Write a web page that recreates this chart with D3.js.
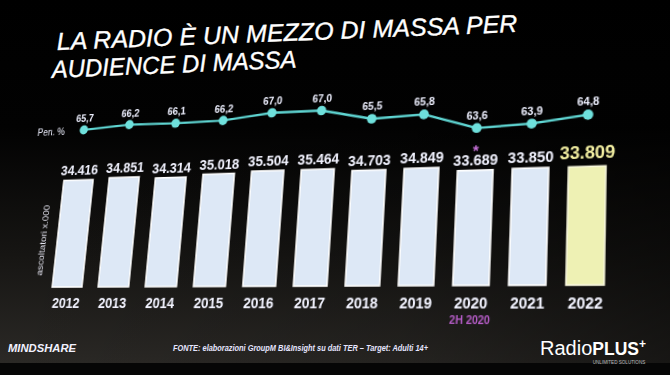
<!DOCTYPE html>
<html>
<head>
<meta charset="utf-8">
<script src="https://cdn.jsdelivr.net/npm/d3@7"></script>
<style>
  html, body { margin:0; padding:0; background:#000; }
  body { width:670px; height:375px; overflow:hidden; position:relative; font-family:"Liberation Sans", Arial, sans-serif; }
  svg { position:absolute; left:0; top:0; display:block; overflow:visible; }
  #chart { transform-origin:0 0; }
</style>
</head>
<body>
<svg id="bg" width="670" height="375"></svg>
<svg id="chart" width="670" height="375"></svg>
<script>
// ---------------- data ----------------
const years = ["2012","2013","2014","2015","2016","2017","2018","2019","2020","2021","2022"];
const listeners = [34416, 34851, 34314, 35018, 35504, 35464, 34703, 34849, 33689, 33850, 33809];
const penetration = [65.7, 66.2, 66.1, 66.2, 67.0, 67.0, 65.5, 65.8, 63.6, 63.9, 64.8];
const highlightYear = "2022";
const notedYear = "2020";
const notedLabel = "2H 2020";
const titleLines = ["LA RADIO È UN MEZZO DI MASSA PER", "AUDIENCE DI MASSA"];
const penLabel = "Pen. %";
const axisTitle = "ascoltatori x.000";
const sourceText = "FONTE: elaborazioni GroupM BI&Insight su dati TER – Target: Adulti 14+";

const it = d3.formatLocale({decimal: ",", thousands: ".", grouping: [3], currency: ["€",""]});
const fmtInt = it.format(",d");
const fmtPct = it.format(",.1f");

// ---------------- background layer (flat) ----------------
const bg = d3.select("#bg");
const defs = bg.append("defs");
const lg = defs.append("linearGradient").attr("id","vg").attr("x1",0).attr("y1",0).attr("x2",0).attr("y2",1);
[[0,"#000"],[0.35,"#020202"],[0.7,"#161513"],[1,"#2b2926"]].forEach(([o,c]) => lg.append("stop").attr("offset",o).attr("stop-color",c));
const hg = defs.append("linearGradient").attr("id","hg").attr("x1",0).attr("y1",0).attr("x2",1).attr("y2",0);
[[0,"rgba(0,0,0,0)"],[0.6,"rgba(0,0,0,0.15)"],[1,"rgba(0,0,0,0.45)"]].forEach(([o,c]) => hg.append("stop").attr("offset",o).attr("stop-color",c));
bg.append("rect").attr("width",670).attr("height",363).attr("fill","url(#vg)");
bg.append("rect").attr("width",670).attr("height",363).attr("fill","url(#hg)");
bg.append("rect").attr("y",363).attr("width",670).attr("height",12).attr("fill","#060606");

// title
const tStarts = [[57,50,-2.25,461],[52,78,-2.45,245]];
titleLines.forEach((t,i) => {
  bg.append("text")
    .attr("x", tStarts[i][0]).attr("y", tStarts[i][1])
    .attr("transform", `rotate(${tStarts[i][2]},${tStarts[i][0]},${tStarts[i][1]})`)
    .attr("font-size", 24.5).attr("font-style","italic").attr("fill","#fff")
    .attr("stroke","#fff").attr("stroke-width",0.35)
    .attr("textLength", tStarts[i][3]).attr("lengthAdjust","spacingAndGlyphs")
    .text(t);
});

// footer
bg.append("text").attr("x",8).attr("y",352).attr("font-size",11.5).attr("font-weight","bold")
  .attr("font-style","italic").attr("fill","#f2f2ff")
  .attr("textLength",68).attr("lengthAdjust","spacingAndGlyphs").text("MINDSHARE");
bg.append("text").attr("x",173).attr("y",351).attr("font-size",8.6).attr("font-weight","bold")
  .attr("font-style","italic").attr("fill","#e6e6ff")
  .attr("textLength",255).attr("lengthAdjust","spacingAndGlyphs").text(sourceText);
const logo = bg.append("text").attr("x",540).attr("y",355).attr("fill","#fff");
logo.append("tspan").attr("font-size",20).text("Radio");
logo.append("tspan").attr("font-size",17.5).attr("font-weight","bold").text("PLUS");
logo.append("tspan").attr("font-size",12).attr("font-weight","bold").attr("dy",-7).text("+");
bg.append("text").attr("x",619).attr("y",363.5).attr("text-anchor","middle").attr("font-size",4.6)
  .attr("fill","#bbb").text("UNLIMITED SOLUTIONS");

// ---------------- chart layer (flat design, then projected like the photo) ----------------
const svg = d3.select("#chart");

const x = d3.scalePoint().domain(years).range([70, 590]);
const barW = x.step() * 0.65;
const yBar = d3.scaleLinear().domain([0, 36000]).range([286, 171.4]);
const yPen = d3.scaleLinear().domain([63, 68]).range([142.5, 107.5]);

// bars
const bars = years.map((yr,i) => ({yr, v: listeners[i], p: penetration[i]}));
svg.append("g").selectAll("rect").data(bars).join("rect")
  .attr("x", d => x(d.yr) - barW/2)
  .attr("y", d => yBar(d.v))
  .attr("width", barW)
  .attr("height", d => yBar(0) - yBar(d.v))
  .attr("fill", d => d.yr === highlightYear ? "#eef1b4" : "#dde8f6")
  .attr("stroke", d => d.yr === highlightYear ? "#f9f8dc" : "#ffffff")
  .attr("stroke-width", 1.6);

// bar value labels
svg.append("g").selectAll("text").data(bars).join("text")
  .attr("x", d => x(d.yr))
  .attr("y", d => yBar(d.v) - (d.yr === highlightYear ? 7 : 5))
  .attr("text-anchor","middle")
  .attr("font-weight","bold")
  .attr("font-size", d => d.yr === highlightYear ? 16.5 : 14)
  .attr("fill", d => d.yr === highlightYear ? "#f4f0a2" : "#f2f3ff")
  .text(d => fmtInt(d.v));

// asterisk on noted year
svg.append("text")
  .attr("x", x(notedYear)).attr("y", yBar(listeners[years.indexOf(notedYear)]) - 14)
  .attr("text-anchor","middle").attr("font-size",15).attr("font-weight","bold")
  .attr("fill","#c46fd6").text("*");

// x axis
const ax = svg.append("g").attr("transform","translate(0,286)")
  .call(d3.axisBottom(x).tickSize(0).tickPadding(11));
ax.select(".domain").remove();
ax.selectAll("text").attr("font-size",14).attr("font-weight","bold")
  .attr("font-family","'Liberation Sans', Arial, sans-serif").attr("fill","#f2f3ff");

svg.append("text")
  .attr("x", x(notedYear)).attr("y", 321)
  .attr("text-anchor","middle").attr("font-size",10).attr("font-weight","bold")
  .attr("fill","#b65cc8").text(notedLabel);

// vertical axis title
svg.append("text")
  .attr("transform","translate(40,238) rotate(-90)")
  .attr("text-anchor","middle").attr("font-size",10).attr("fill","#e8e8f4")
  .text(axisTitle);

// penetration line
const line = d3.line().x(d => x(d.yr)).y(d => yPen(d.p));
svg.append("path").datum(bars).attr("d", line)
  .attr("fill","none").attr("stroke","#5fd6d3").attr("stroke-width",2.3);
svg.append("g").selectAll("circle").data(bars).join("circle")
  .attr("cx", d => x(d.yr)).attr("cy", d => yPen(d.p)).attr("r", 4.8)
  .attr("fill","#6ee0dc");
svg.append("g").selectAll("text").data(bars).join("text")
  .attr("x", d => x(d.yr)).attr("y", d => yPen(d.p) - 8.5)
  .attr("text-anchor","middle").attr("font-size",10.5).attr("font-weight","bold")
  .attr("fill","#eef0ff").text(d => fmtPct(d.p));
svg.append("text").attr("x",48).attr("y",128.5).attr("text-anchor","end")
  .attr("font-size",10).attr("fill","#eef0ff").text(penLabel);

// ---------------- projection of the flat chart onto the photographed screen ----------------
const flatQuad  = [[70,286],[590,286],[590,120],[70,120]];
const photoQuad = [[67,287],[585,285],[588.3,104.2],[84.2,126.5]];
function solveHomography(src, dst) {
  const A = [], B = [];
  for (let i = 0; i < 4; i++) {
    const [sx, sy] = src[i], [dx, dy] = dst[i];
    A.push([sx, sy, 1, 0, 0, 0, -sx*dx, -sy*dx]); B.push(dx);
    A.push([0, 0, 0, sx, sy, 1, -sx*dy, -sy*dy]); B.push(dy);
  }
  const n = 8;
  for (let c = 0; c < n; c++) {
    let p = c;
    for (let r = c+1; r < n; r++) if (Math.abs(A[r][c]) > Math.abs(A[p][c])) p = r;
    [A[c], A[p]] = [A[p], A[c]]; [B[c], B[p]] = [B[p], B[c]];
    for (let r = 0; r < n; r++) {
      if (r === c) continue;
      const f = A[r][c] / A[c][c];
      for (let k = c; k < n; k++) A[r][k] -= f * A[c][k];
      B[r] -= f * B[c];
    }
  }
  return B.map((b, i) => b / A[i][i]);
}
const [a,b,c,d,e,f,g,h] = solveHomography(flatQuad, photoQuad);
document.getElementById("chart").style.transform =
  `matrix3d(${a},${d},0,${g},${b},${e},0,${h},0,0,1,0,${c},${f},0,1)`;
</script>
</body>
</html>
